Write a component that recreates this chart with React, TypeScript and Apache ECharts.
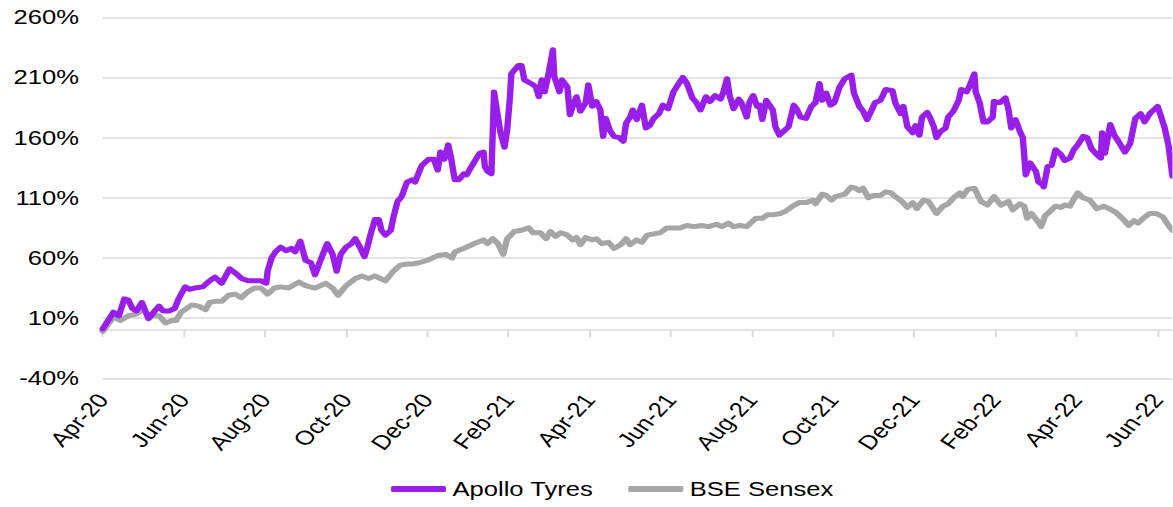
import React, { useEffect, useRef } from "react";
import * as echarts from "echarts";

const apolloDates = [
  "2020-04-01","2020-04-09","2020-04-13","2020-04-17","2020-04-20","2020-04-23","2020-04-26","2020-04-30",
  "2020-05-05","2020-05-09","2020-05-13","2020-05-16","2020-05-21","2020-05-25","2020-05-28",
  "2020-06-02","2020-06-05","2020-06-09","2020-06-15","2020-06-20","2020-06-24","2020-06-29",
  "2020-07-05","2020-07-10","2020-07-14","2020-07-19","2020-07-24","2020-07-29",
  "2020-08-02","2020-08-03","2020-08-06","2020-08-09","2020-08-13","2020-08-17","2020-08-21","2020-08-24","2020-08-28",
  "2020-09-01","2020-09-05","2020-09-08","2020-09-12","2020-09-17","2020-09-21","2020-09-24","2020-09-27",
  "2020-10-01","2020-10-05","2020-10-08","2020-10-12","2020-10-15","2020-10-17","2020-10-20","2020-10-23","2020-10-26","2020-10-28","2020-10-31",
  "2020-11-04","2020-11-06","2020-11-09","2020-11-12","2020-11-16","2020-11-20","2020-11-22","2020-11-24","2020-11-27",
  "2020-12-02","2020-12-06","2020-12-09","2020-12-11","2020-12-14","2020-12-17","2020-12-19","2020-12-22","2020-12-25","2020-12-29","2020-12-31",
  "2021-01-06","2021-01-10","2021-01-13","2021-01-14","2021-01-16","2021-01-19","2021-01-21","2021-01-24","2021-01-26","2021-01-29","2021-01-31",
  "2021-02-02","2021-02-03","2021-02-05","2021-02-08","2021-02-10","2021-02-12","2021-02-15","2021-02-18","2021-02-20","2021-02-22","2021-02-24","2021-02-26",
  "2021-03-01","2021-03-04","2021-03-05","2021-03-09","2021-03-11","2021-03-15","2021-03-17","2021-03-20","2021-03-22","2021-03-25","2021-03-29","2021-03-31",
  "2021-04-03","2021-04-06","2021-04-09","2021-04-11","2021-04-13","2021-04-16","2021-04-19","2021-04-23","2021-04-26","2021-04-28",
  "2021-05-01","2021-05-03","2021-05-06","2021-05-10","2021-05-13","2021-05-16","2021-05-19","2021-05-23","2021-05-26","2021-05-30",
  "2021-06-03","2021-06-07","2021-06-10","2021-06-13","2021-06-17","2021-06-20","2021-06-23","2021-06-27","2021-06-30",
  "2021-07-04","2021-07-08","2021-07-10","2021-07-13","2021-07-15","2021-07-18","2021-07-22","2021-07-24","2021-07-28","2021-07-30",
  "2021-08-02","2021-08-05","2021-08-07","2021-08-09","2021-08-12","2021-08-17","2021-08-19","2021-08-22","2021-08-26","2021-08-29",
  "2021-09-02","2021-09-04","2021-09-07","2021-09-11","2021-09-15","2021-09-18","2021-09-21","2021-09-23","2021-09-26","2021-09-29",
  "2021-10-02","2021-10-06","2021-10-10","2021-10-15","2021-10-17","2021-10-21","2021-10-24","2021-10-27","2021-10-31",
  "2021-11-02","2021-11-06","2021-11-10","2021-11-15","2021-11-17","2021-11-21","2021-11-23","2021-11-26","2021-11-30",
  "2021-12-02","2021-12-05","2021-12-07","2021-12-11","2021-12-13","2021-12-16","2021-12-18","2021-12-21","2021-12-25","2021-12-27","2021-12-31",
  "2022-01-04","2022-01-06","2022-01-10","2022-01-12","2022-01-16","2022-01-17","2022-01-20","2022-01-23","2022-01-26","2022-01-30","2022-01-31",
  "2022-02-04","2022-02-08","2022-02-10","2022-02-12","2022-02-15","2022-02-18","2022-02-20","2022-02-22","2022-02-25",
  "2022-03-01","2022-03-03","2022-03-06","2022-03-07","2022-03-10","2022-03-13","2022-03-16","2022-03-20","2022-03-23","2022-03-27","2022-03-30",
  "2022-04-02","2022-04-06","2022-04-09","2022-04-12","2022-04-16","2022-04-19","2022-04-20","2022-04-22","2022-04-26","2022-04-29",
  "2022-05-02","2022-05-07","2022-05-11","2022-05-15","2022-05-19","2022-05-22","2022-05-26","2022-05-30",
  "2022-06-01","2022-06-04","2022-06-06","2022-06-09","2022-06-12",
];

const apolloValues = [
  1, 15, 12, 26, 25, 18, 16, 23,
  9.5, 15, 20, 16, 16, 18, 26,
  36, 34, 35, 36, 41, 44, 39,
  51, 47, 43, 41, 41, 41,
  39, 49, 60, 65, 69, 66, 68, 65, 74,
  58, 56, 46, 58, 72, 63, 49, 63,
  69, 72, 76, 68, 61, 68, 81, 92, 92, 83, 79,
  83, 94, 107, 111, 123, 125, 123, 129, 137,
  142, 142, 133, 148, 142, 154, 144, 125, 125, 130, 129,
  140, 147, 148, 136, 132, 130, 198, 177, 164, 152, 166,
  193, 213, 216, 220, 220, 208, 206, 204, 202, 194, 208, 198,
  215, 233, 211, 198, 208, 202, 179, 189, 194, 182, 189, 204,
  186, 190, 183, 161, 176, 166, 161, 160, 157, 172,
  177, 183, 175, 187, 168, 170, 176, 180, 187, 184,
  198, 205, 210, 205, 193, 189, 183, 194, 190,
  195, 192, 197, 209, 195, 184, 192, 189, 177, 189,
  195, 186, 187, 175, 191, 183, 169, 162, 166, 169,
  187, 184, 177, 176, 186, 189, 205, 191, 197, 187,
  189, 202, 209, 212, 197, 186, 182, 175, 184,
  189, 191, 200, 199, 189, 180, 186, 169, 164,
  170, 162, 177, 181, 177, 169, 160, 165, 168, 177, 182,
  191, 200, 198, 202, 213, 198, 189, 173, 173, 177, 190,
  189, 193, 184, 168, 175, 165, 160, 129, 139,
  132, 123, 121, 119, 136, 137, 150, 146, 141, 143, 150,
  154, 161, 160, 151, 146, 143, 164, 147, 171, 162,
  157, 148, 155, 176, 180, 173, 180, 184,
  186, 176, 169, 154, 128,
];

const sensexDates = [
  "2020-04-01","2020-04-09","2020-04-14","2020-04-20","2020-04-25",
  "2020-05-01","2020-05-05","2020-05-13","2020-05-18","2020-05-23","2020-05-26","2020-05-30",
  "2020-06-07","2020-06-12","2020-06-17","2020-06-20","2020-06-24","2020-06-29",
  "2020-07-04","2020-07-09","2020-07-14","2020-07-19","2020-07-24","2020-07-29",
  "2020-08-03","2020-08-08","2020-08-13","2020-08-19","2020-08-27",
  "2020-09-01","2020-09-08","2020-09-16","2020-09-21","2020-09-25",
  "2020-10-01","2020-10-08","2020-10-13","2020-10-18","2020-10-23","2020-10-31",
  "2020-11-06","2020-11-11","2020-11-16","2020-11-20","2020-11-25",
  "2020-12-01","2020-12-09","2020-12-15","2020-12-20","2020-12-22","2020-12-29",
  "2021-01-04","2021-01-06","2021-01-13","2021-01-16","2021-01-20","2021-01-24","2021-01-28","2021-01-31",
  "2021-02-05","2021-02-10","2021-02-15","2021-02-18","2021-02-23","2021-02-27",
  "2021-03-02","2021-03-06","2021-03-10","2021-03-15","2021-03-19","2021-03-22","2021-03-25","2021-03-29",
  "2021-04-03","2021-04-06","2021-04-10","2021-04-15","2021-04-19","2021-04-24","2021-04-28",
  "2021-05-01","2021-05-06","2021-05-10","2021-05-14","2021-05-19","2021-05-24","2021-05-29","2021-05-31",
  "2021-06-08","2021-06-13","2021-06-18","2021-06-24","2021-06-29",
  "2021-07-05","2021-07-09","2021-07-14","2021-07-18","2021-07-23","2021-07-28",
  "2021-08-01","2021-08-04","2021-08-09","2021-08-13","2021-08-18","2021-08-23","2021-08-27",
  "2021-09-01","2021-09-06","2021-09-11","2021-09-16","2021-09-18","2021-09-23","2021-09-26","2021-09-30",
  "2021-10-03","2021-10-10","2021-10-15","2021-10-18","2021-10-21","2021-10-24","2021-10-28",
  "2021-11-01","2021-11-06","2021-11-10","2021-11-14","2021-11-17","2021-11-22","2021-11-26","2021-11-30",
  "2021-12-03","2021-12-08","2021-12-12","2021-12-18","2021-12-23","2021-12-27",
  "2022-01-01","2022-01-05","2022-01-07","2022-01-11","2022-01-16","2022-01-21","2022-01-26","2022-01-31",
  "2022-02-05","2022-02-10","2022-02-13","2022-02-18","2022-02-21","2022-02-23","2022-02-26",
  "2022-03-02","2022-03-05","2022-03-08","2022-03-12","2022-03-16","2022-03-20","2022-03-23","2022-03-27","2022-03-30",
  "2022-04-02","2022-04-06","2022-04-11","2022-04-16","2022-04-21","2022-04-25","2022-04-30",
  "2022-05-05","2022-05-10","2022-05-14","2022-05-17","2022-05-21","2022-05-26","2022-05-31",
  "2022-06-05","2022-06-09","2022-06-12",
];

const sensexValues = [
  -1, 11, 8, 12, 13,
  17, 12, 12, 6, 8, 8, 15,
  21, 20, 17, 23, 24, 24,
  29, 30, 27, 32, 35, 35,
  30, 35, 36, 35, 40,
  37, 35, 39, 35, 29,
  37, 43, 45, 43, 45, 41,
  49, 54, 55, 55, 56,
  58, 62, 63, 60, 65, 68,
  71, 72, 75, 72, 76, 72, 63, 76,
  82, 83, 85, 81, 81, 76,
  82, 78, 81, 79, 75, 77, 71, 77,
  75, 76, 72, 73, 68, 71, 76,
  71, 75, 73, 79, 80, 81, 85, 85,
  85, 87, 86, 87, 86,
  88, 86, 89, 86, 87, 86,
  90, 93, 93, 96, 96, 97, 99,
  103, 106, 106, 108, 105, 113, 112, 108,
  111, 113, 119, 118, 116, 118, 110,
  112, 112, 115, 114, 111, 107, 102, 106,
  101, 108, 107, 97, 103, 105,
  111, 114, 111, 117, 118, 107, 104, 111,
  104, 107, 100, 105, 103, 93, 97,
  91, 86, 95, 99, 103, 102, 104, 103, 109,
  114, 110, 108, 101, 103, 101, 98,
  93, 87, 91, 89, 93, 97, 97,
  94, 87, 83,
];

const seriesNames = ["Apollo Tyres", "BSE Sensex"];
const monthNames = ["Jan","Feb","Mar","Apr","May","Jun","Jul","Aug","Sep","Oct","Nov","Dec"];
const startYear = 2020;
const startMonth = 4; // April
const xStart = "2020-04-01";
const xEnd = "2022-06-12";
const xStepMonths = 2;
const yMin = -40;
const yMax = 260;
const yStep = 50;

const FONT = "'Liberation Sans', Arial, sans-serif";
// the reference picture is stretched horizontally; draw narrower and widen with CSS
const STRETCH = 1.28;
const OUT_W = 1173;
const OUT_H = 507;
const W = OUT_W / STRETCH;

function monthIndex(s: string): number {
  const [y, m, d] = s.split("-").map(Number);
  const dim = new Date(y, m, 0).getDate();
  return (y - startYear) * 12 + (m - startMonth) + (d - 1) / dim;
}

function monthLabel(idx: number): string {
  const total = startMonth - 1 + Math.round(idx);
  const y = startYear + Math.floor(total / 12);
  return monthNames[total % 12] + "-" + String(y).slice(2);
}

export default function App() {
  const ref = useRef<HTMLDivElement>(null);

  useEffect(() => {
    document.body.style.margin = "0";
    if (!ref.current) return;
    const chart = echarts.init(ref.current, undefined, { renderer: "svg" });
    const toPairs = (d: string[], v: number[]) => d.map((x, i) => [monthIndex(x), v[i]]);

    chart.setOption({
      animation: false,
      textStyle: { fontFamily: FONT },
      grid: { left: 102.7 / STRETCH, right: 0, top: 17.3, bottom: 128.7, containLabel: false },
      legend: {
        data: seriesNames,
        left: 391 / STRETCH,
        top: 479,
        padding: 0,
        icon: "roundRect",
        itemWidth: 55 / STRETCH,
        itemHeight: 6,
        itemGap: 35 / STRETCH,
        textStyle: { fontSize: 20, color: "#000", fontFamily: FONT, padding: [0, 0, 0, 0] },
      },
      tooltip: { show: false },
      xAxis: {
        type: "value",
        min: monthIndex(xStart),
        max: monthIndex(xEnd),
        interval: xStepMonths,
        splitLine: { show: false },
        axisLine: { lineStyle: { color: "#D9D9D9", width: 1.5 } },
        axisTick: {
          show: true,
          length: 7,
          lineStyle: { color: "#D9D9D9", width: 1.5 },
        },
        axisLabel: {
          rotate: 52,
          margin: 18,
          fontSize: 20,
          color: "#000",
          fontFamily: FONT,
          formatter: (val: number) => monthLabel(val),
        },
      },
      yAxis: {
        type: "value",
        min: yMin,
        max: yMax,
        interval: yStep,
        axisLine: { show: false },
        axisTick: { show: false },
        splitLine: { lineStyle: { color: "#D9D9D9", width: 1.5 } },
        axisLabel: {
          margin: (102.7 - 79) / STRETCH,
          fontSize: 20,
          color: "#000",
          fontFamily: FONT,
          formatter: "{value}%",
        },
      },
      series: [
        {
          name: seriesNames[0],
          type: "line",
          showSymbol: false,
          data: toPairs(apolloDates, apolloValues),
          lineStyle: { color: "#9A1EEA", width: 5, join: "round", cap: "round" },
          itemStyle: { color: "#9A1EEA" },
          z: 3,
        },
        {
          name: seriesNames[1],
          type: "line",
          showSymbol: false,
          data: toPairs(sensexDates, sensexValues),
          lineStyle: { color: "#A6A6A6", width: 5, join: "round", cap: "round" },
          itemStyle: { color: "#A6A6A6" },
          z: 2,
        },
      ],
    });
    return () => chart.dispose();
  }, []);

  return (
    <div style={{ width: OUT_W, height: OUT_H, overflow: "hidden", position: "relative", background: "#fff" }}>
      <div
        style={{
          position: "absolute",
          left: 0,
          top: 0,
          width: W,
          height: OUT_H,
          transform: `scaleX(${STRETCH})`,
          transformOrigin: "0 0",
        }}
      >
        <div ref={ref} style={{ width: W, height: OUT_H }} />
      </div>
    </div>
  );
}
